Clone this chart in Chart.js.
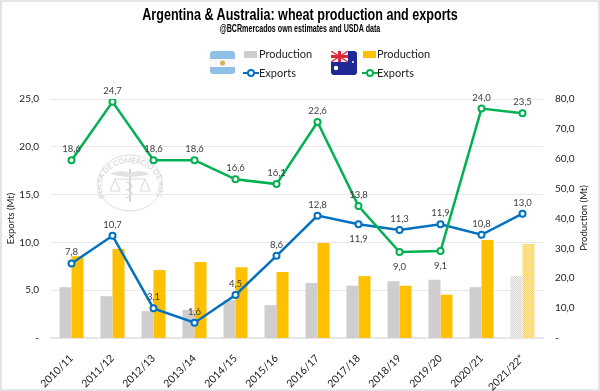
<!DOCTYPE html>
<html>
<head>
<meta charset="utf-8">
<script src="https://cdn.jsdelivr.net/npm/chart.js@4"></script>
<style>
  html, body { margin: 0; padding: 0; background: #fff; }
  #frame { position: relative; width: 600px; height: 391px; overflow: hidden; background: #fff; }
  #frame canvas { position: absolute; left: 0; top: 0; }
  #seal { position: absolute; left: 97px; top: 154px; width: 66px; height: 58px; }
  .flag { position: absolute; width: 26px; height: 24px; }
  .head { position: absolute; left: 0; width: 600px; text-align: center; color: #000; font-family: "Liberation Sans", Arial, sans-serif; font-weight: bold; white-space: nowrap; }
  .lg { position: absolute; font: 11px Lato, sans-serif; color: #222; line-height: 14px; }
  .sw { position: absolute; width: 13px; height: 7px; }
  .ln { position: absolute; width: 16px; height: 14px; }
  #prodTitle { position: absolute; left: 544px; top: 212px; width: 80px; text-align: center; font: 9.5px Lato, sans-serif; line-height: 12px; color: #222; transform: rotate(-90deg); white-space: nowrap; }
</style>
</head>
<body>
<div id="frame">
  <svg id="seal" viewBox="0 0 66 58">
    <defs><path id="sealArc" d="M 8 43 A 28.5 23 0 1 1 58 43"></path></defs>
    <ellipse cx="33" cy="29" rx="32" ry="28" fill="none" stroke="#dddddd" stroke-width="1"></ellipse>
    <text font-family="Lato" font-size="7.5" fill="#cfcfcf"><textPath href="#sealArc" textLength="120" lengthAdjust="spacing">BOLSA DE COMERCIO DE ROSARIO</textPath></text>
    <path d="M33 15 V48" stroke="#d4d4d4" stroke-width="2" fill="none"></path>
    <path d="M33 19 C26 16 18 17 13 20 C20 22 27 23 33 23 C39 23 46 22 53 20 C48 17 40 16 33 19 Z" fill="#e2e2e2"></path>
    <path d="M18 25 H48 M18 25 L13 37 H23 Z M48 25 L43 37 H53 Z" stroke="#d8d8d8" stroke-width="1" fill="none"></path>
    <path d="M29 28 C37 31 37 33 30 36 C37 39 37 41 29 44" stroke="#d8d8d8" stroke-width="1.2" fill="none"></path>
  </svg>
  <canvas id="wheatChart" width="600" height="391"></canvas>

  <div class="head" style="top:5px;font-size:17px;line-height:20px;transform:scaleX(0.74)">Argentina &amp; Australia: wheat production and exports</div>
  <div class="head" style="top:22px;font-size:10.5px;line-height:12px;transform:scaleX(0.68)">@BCRmercados own estimates and USDA data</div>
  <div id="prodTitle">Production (Mt)</div>

  <svg class="flag" style="left:210px;top:51px" viewBox="0 0 26 24">
    <rect width="25" height="23" rx="3" fill="#8fc0e6"></rect>
    <rect y="8" width="25" height="8" fill="#f6f8fa"></rect>
    <circle cx="12.5" cy="12" r="2.5" fill="#e0aa4e"></circle>
  </svg>
  <svg class="flag" style="left:331px;top:51px" viewBox="0 0 26 24">
    <rect width="26" height="24" rx="3" fill="#1f2a96"></rect>
    <rect width="17" height="11" fill="#f2f2f2"></rect>
    <path d="M0 0 L17 11 M17 0 L0 11" stroke="#d8283a" stroke-width="1.2"></path>
    <path d="M7 0 H10 V11 H7 Z M0 4 H17 V7 H0 Z" fill="#d8283a"></path>
    <circle cx="5" cy="17" r="2.2" fill="#fff"></circle>
    <circle cx="22" cy="11" r="1" fill="#fff"></circle>
  </svg>

  <div class="sw" style="left:244px;top:51px;background:#cfcdcd"></div>
  <div class="lg" style="left:259px;top:47px">Production</div>
  <svg class="ln" style="left:243px;top:66px" viewBox="0 0 16 14"><path d="M0 7 H16" stroke="#0070c0" stroke-width="2"></path><circle cx="8" cy="7" r="3" fill="#fff" stroke="#0070c0" stroke-width="2"></circle></svg>
  <div class="lg" style="left:259px;top:66px">Exports</div>

  <div class="sw" style="left:363px;top:51px;background:#ffc000"></div>
  <div class="lg" style="left:377px;top:47px">Production</div>
  <svg class="ln" style="left:362px;top:66px" viewBox="0 0 16 14"><path d="M0 7 H16" stroke="#00b050" stroke-width="2"></path><circle cx="8" cy="7" r="3" fill="#fff" stroke="#00b050" stroke-width="2"></circle></svg>
  <div class="lg" style="left:377px;top:66px">Exports</div>
</div>

<script>
const campaigns = ['2010/11', '2011/12', '2012/13', '2013/14', '2014/15', '2015/16', '2016/17', '2017/18', '2018/19', '2019/20', '2020/21', '2021/22*'];
const argProduction = [17.0, 14.0, 9.0, 9.4, 12.7, 11.0, 18.4, 17.5, 19.0, 19.5, 17.0, 20.7];
const ausProduction = [27.4, 29.8, 22.8, 25.4, 23.7, 22.1, 31.8, 20.7, 17.5, 14.5, 32.8, 31.5];
const argExports = [7.8, 10.7, 3.1, 1.6, 4.5, 8.6, 12.8, 11.9, 11.3, 11.9, 10.8, 13.0];
const ausExports = [18.6, 24.7, 18.6, 18.6, 16.6, 16.1, 22.6, 13.8, 9.0, 9.1, 24.0, 23.5];
// labels that sit under the point instead of over it
const argLabelBelow = ['2017/18'];
const ausLabelBelow = ['2018/19', '2019/20'];

const fmt = v => v === 0 ? '-' : v.toFixed(1).replace('.', ',');

// checkered fill for the estimated last campaign
const hatch = (color, gap) => {
  const c = document.createElement('canvas');
  c.width = 2;
  c.height = 2;
  const g = c.getContext('2d');
  g.fillStyle = gap;
  g.fillRect(0, 0, 2, 2);
  g.fillStyle = color;
  g.fillRect(0, 0, 1, 1);
  g.fillRect(1, 1, 1, 1);
  return g.createPattern(c, 'repeat');
};
const lastHatched = (color, fill) => campaigns.map((c, i) => i === campaigns.length - 1 ? fill : color);

// data labels, same idea as the datalabels plugin but only what this chart needs
const pointLabels = {
  id: 'pointLabels',
  afterDatasetsDraw(chart) {
    const ctx = chart.ctx;
    ctx.save();
    ctx.font = '9.5px Lato, sans-serif';
    ctx.fillStyle = '#404040';
    ctx.textAlign = 'center';
    ctx.textBaseline = 'middle';
    chart.data.datasets.forEach((ds, i) => {
      if (ds.type !== 'line') return;
      chart.getDatasetMeta(i).data.forEach((pt, j) => {
        const below = ds.labelBelow.includes(campaigns[j]);
        ctx.fillText(fmt(ds.data[j]), pt.x, below ? pt.y + 15 : pt.y - 11);
      });
    });
    ctx.restore();
  }
};

// thin frame around the picture
const frameBorder = {
  id: 'frameBorder',
  beforeDraw(chart) {
    const ctx = chart.ctx;
    ctx.save();
    ctx.strokeStyle = '#e4e4e4';
    ctx.lineWidth = 2;
    ctx.strokeRect(1, 1, 598, 389);
    ctx.restore();
  }
};

new Chart(document.getElementById('wheatChart'), {
  type: 'bar',
  data: {
    labels: campaigns,
    datasets: [
      {
        type: 'line',
        label: 'Exports',
        data: argExports,
        labelBelow: argLabelBelow,
        yAxisID: 'y',
        borderColor: '#0070c0',
        borderWidth: 2.5,
        pointRadius: 3,
        pointBorderWidth: 2,
        pointBackgroundColor: '#fff',
        pointBorderColor: '#0070c0',
        order: 1
      },
      {
        type: 'line',
        label: 'Exports',
        data: ausExports,
        labelBelow: ausLabelBelow,
        yAxisID: 'y',
        borderColor: '#00b050',
        borderWidth: 2.5,
        pointRadius: 3,
        pointBorderWidth: 2,
        pointBackgroundColor: '#fff',
        pointBorderColor: '#00b050',
        order: 0
      },
      {
        label: 'Production',
        data: argProduction,
        yAxisID: 'y1',
        backgroundColor: lastHatched('#cfcdcd', hatch('#d6d5d5', '#f4f4f4')),
        categoryPercentage: 0.585,
        barPercentage: 1,
        order: 2
      },
      {
        label: 'Production',
        data: ausProduction,
        yAxisID: 'y1',
        backgroundColor: lastHatched('#ffc000', hatch('#ffd766', '#ffe7a6')),
        categoryPercentage: 0.585,
        barPercentage: 1,
        order: 3
      }
    ]
  },
  options: {
    responsive: false,
    animation: false,
    layout: { padding: { left: 0, right: 0, top: 99, bottom: 0 } },
    plugins: {
      legend: { display: false },
      tooltip: { enabled: false }
    },
    scales: {
      x: {
        grid: { display: false },
        border: { color: '#e6e6e6', width: 2 },
        afterFit: (scale) => { scale.height = 53; },
        ticks: {
          color: '#222',
          font: { family: 'Lato', size: 10.5 },
          maxRotation: 45,
          minRotation: 45,
          padding: 6
        }
      },
      y: {
        position: 'left',
        min: 0,
        max: 25,
        grid: { color: '#e8e8e8', drawTicks: false },
        border: { display: false },
        afterFit: (scale) => { scale.width = 51; },
        title: { display: true, text: 'Exports (Mt)', color: '#222', font: { family: 'Lato', size: 9.5 }, padding: 5 },
        ticks: {
          stepSize: 5,
          padding: 12,
          color: '#222',
          font: { family: 'Lato', size: 10 },
          callback: v => fmt(v)
        }
      },
      y1: {
        position: 'right',
        min: 0,
        max: 80,
        grid: { display: false, drawTicks: false },
        border: { display: false },
        afterFit: (scale) => { scale.width = 57; },
        ticks: {
          stepSize: 10,
          padding: 12,
          color: '#222',
          font: { family: 'Lato', size: 10 },
          callback: v => fmt(v)
        }
      }
    }
  },
  plugins: [frameBorder, pointLabels]
});
</script>
</body>
</html>
